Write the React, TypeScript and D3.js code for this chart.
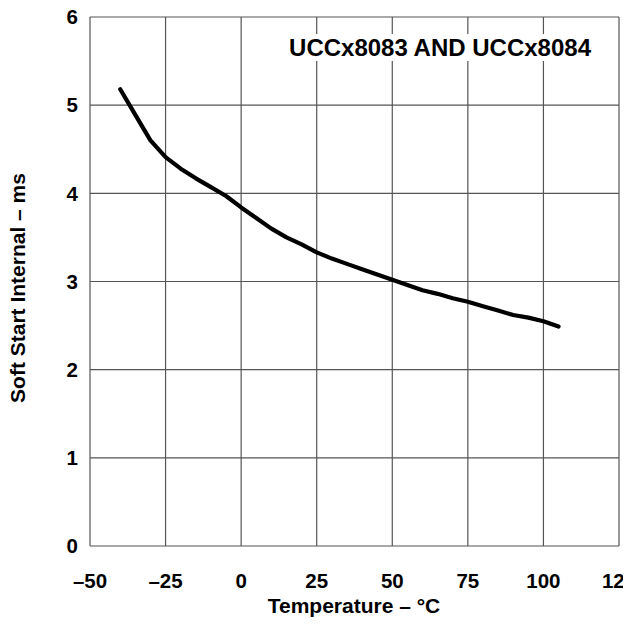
import React from 'react';
import * as d3 from 'd3';

// Soft start interval vs. temperature
const temps = [-40, -35, -30, -25, -20, -15, -10, -5, 0, 5, 10, 15, 20, 25, 30, 35, 40, 45, 50, 55, 60, 65, 70, 75, 80, 85, 90, 95, 100, 105];
const softStart = [5.18, 4.89, 4.6, 4.41, 4.28, 4.17, 4.07, 3.97, 3.84, 3.72, 3.6, 3.5, 3.42, 3.33, 3.26, 3.2, 3.14, 3.08, 3.02, 2.96, 2.9, 2.86, 2.81, 2.77, 2.72, 2.67, 2.62, 2.59, 2.55, 2.49];
const xTicks = [-50, -25, 0, 25, 50, 75, 100, 125];
const yTicks = [0, 1, 2, 3, 4, 5, 6];

const title = 'UCCx8083 AND UCCx8084';
const xLabel = 'Temperature – °C';
const yLabel = 'Soft Start Internal – ms';

const W = 623;
const H = 631;
const font = '"Liberation Sans", Arial, sans-serif';

export default function App() {
  const x = d3.scaleLinear().domain([-50, 125]).range([90, 619]);
  const y = d3.scaleLinear().domain([0, 6]).range([546, 17]);

  const line = d3.line<number>()
    .x((d, i) => x(temps[i]))
    .y(d => y(d));

  const fmt = (v: number) => (v < 0 ? '–' + Math.abs(v) : String(v));

  return (
    <svg width={W} height={H} style={{ position: 'absolute', left: 0, top: 0, background: '#fff' }}>
      {/* grid */}
      <g stroke="#555" strokeWidth={1.2}>
        {xTicks.map(t => (
          <line key={'gx' + t} x1={x(t)} x2={x(t)} y1={y(0)} y2={y(6)} />
        ))}
        {yTicks.map(t => (
          <line key={'gy' + t} x1={x(-50)} x2={x(125)} y1={y(t)} y2={y(t)} />
        ))}
      </g>

      {/* title box breaks the grid */}
      <rect x={284} y={34} width={312} height={27} fill="#fff" />
      <text x={591} y={56} textAnchor="end" fontFamily={font} fontWeight="bold" fontSize={24} fill="#000">
        {title}
      </text>

      <path d={line(softStart) || ''} fill="none" stroke="#000" strokeWidth={4.2} strokeLinejoin="round" strokeLinecap="round" />

      {/* tick labels */}
      <g fontFamily={font} fontWeight="bold" fontSize={20.5} fill="#000">
        {xTicks.map(t => (
          <text key={'tx' + t} x={x(t)} y={588} textAnchor="middle">{fmt(t)}</text>
        ))}
        {yTicks.map(t => (
          <text key={'ty' + t} x={78} y={y(t)} dy="0.35em" textAnchor="end">{t}</text>
        ))}
      </g>

      <text x={354} y={613} textAnchor="middle" fontFamily={font} fontWeight="bold" fontSize={21} fill="#000">
        {xLabel}
      </text>
      <text transform={`translate(25,288) rotate(-90)`} textAnchor="middle" fontFamily={font} fontWeight="bold" fontSize={21} fill="#000">
        {yLabel}
      </text>
    </svg>
  );
}
